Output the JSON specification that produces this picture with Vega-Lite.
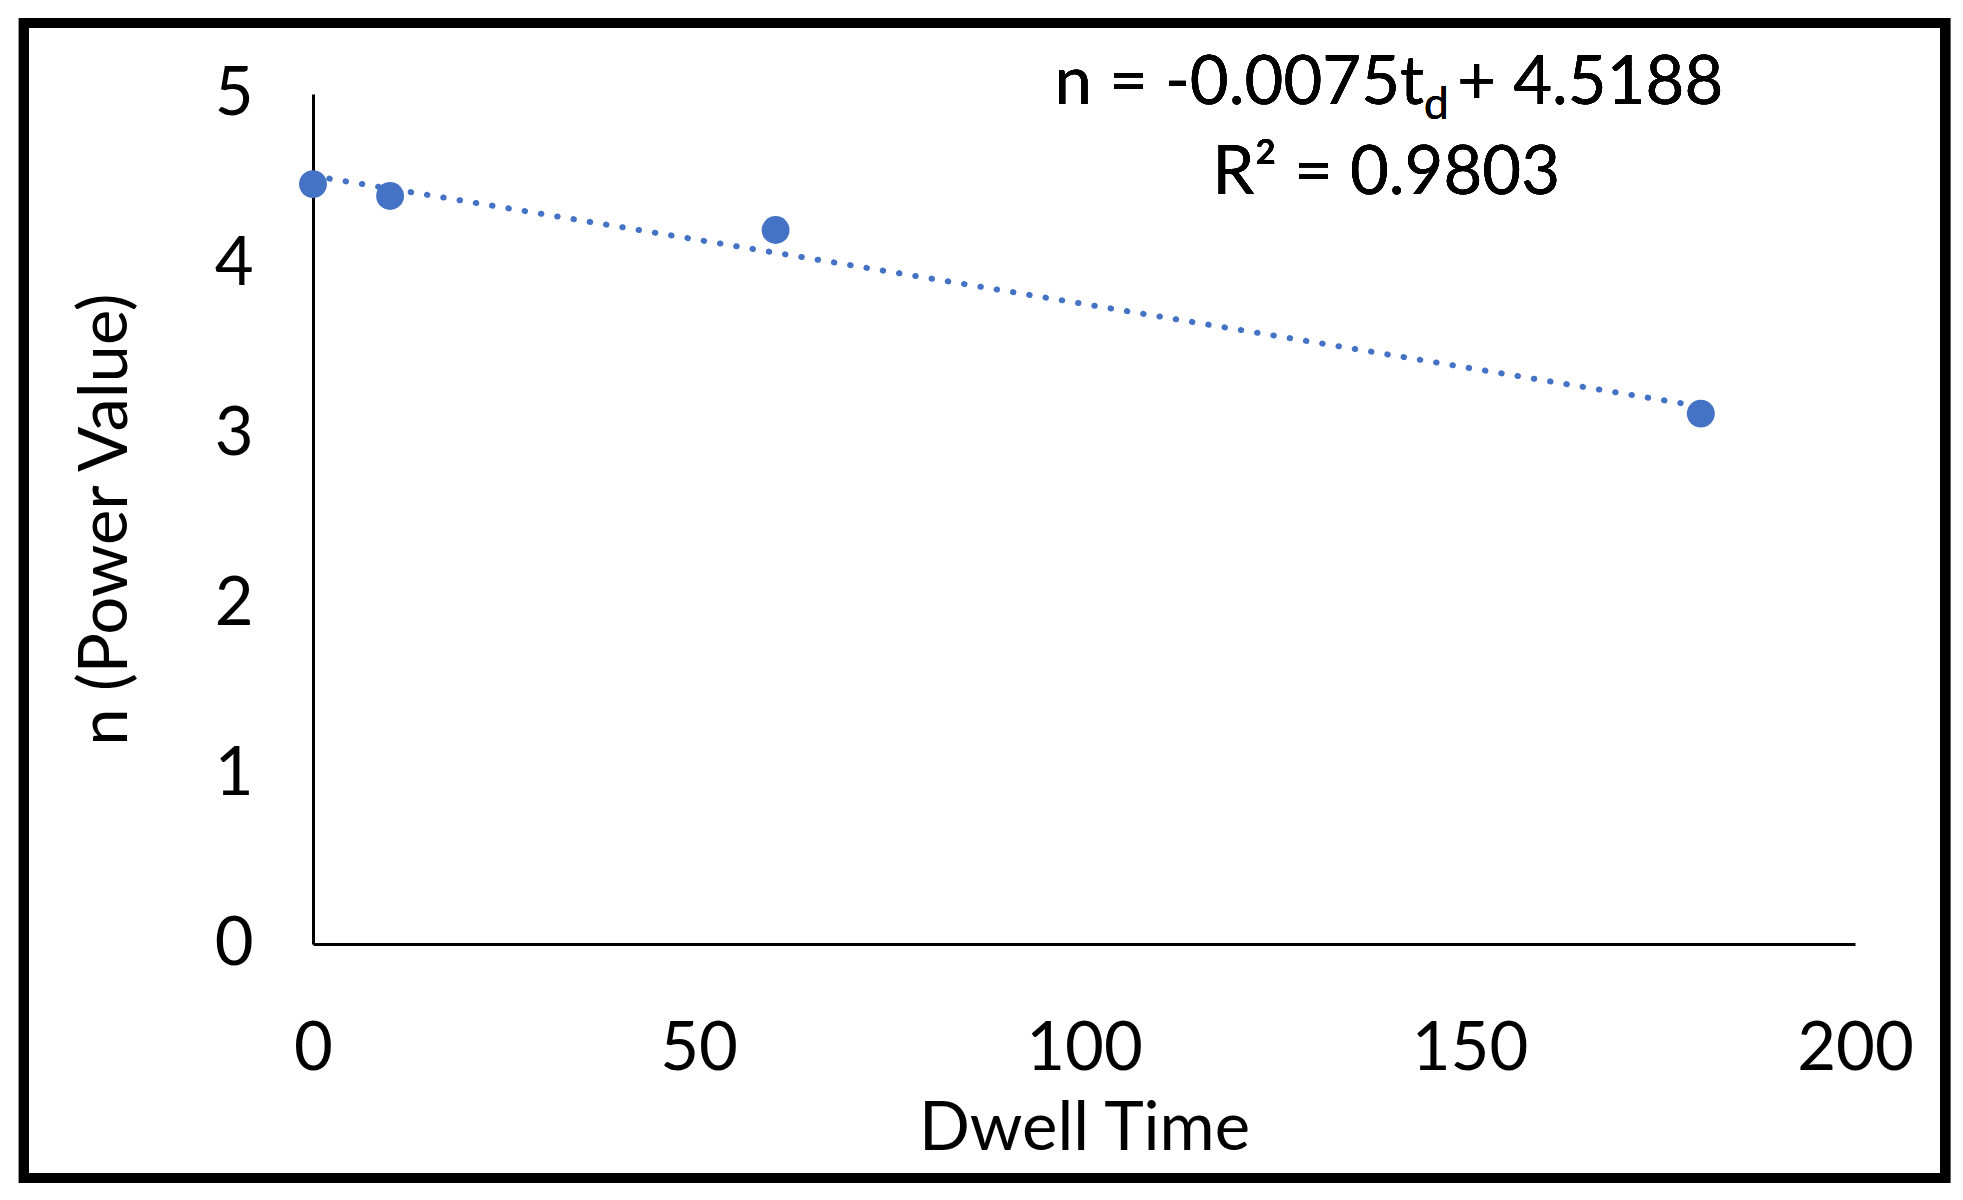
{
  "$schema": "https://vega.github.io/schema/vega-lite/v6.json",
  "width": 1542,
  "height": 850,
  "autosize": {"type": "none"},
  "padding": {"left": 313, "top": 94, "right": 108, "bottom": 256},
  "background": "white",
  "config": {
    "view": {"stroke": null},
    "font": "Lato",
    "axis": {"grid": false, "ticks": false, "tickSize": 0, "domainColor": "black", "domainWidth": 3, "labelColor": "black", "titleColor": "black", "labelFont": "Lato", "titleFont": "Lato", "labelFontSize": 67, "titleFontSize": 67, "titleFontWeight": "normal", "labelFlush": false}
  },
  "data": {"values": [
    {"t": 0, "n": 4.47},
    {"t": 10, "n": 4.40},
    {"t": 60, "n": 4.20},
    {"t": 180, "n": 3.12}
  ]},
  "layer": [
    {
      "mark": {"type": "rect", "filled": false, "fill": null, "stroke": "black", "strokeWidth": 10, "clip": false},
      "encoding": {
        "x": {"datum": -37.5, "type": "quantitative", "scale": {"domain": [0, 200]}},
        "x2": {"datum": 211.7},
        "y": {"datum": 5.418, "type": "quantitative", "scale": {"domain": [0, 5]}},
        "y2": {"datum": -1.376}
      }
    },
    {
      "transform": [{"regression": "n", "on": "t", "method": "linear", "extent": [0, 180]}],
      "mark": {"type": "line", "color": "#4472C4", "strokeWidth": 6, "strokeCap": "round", "strokeDash": [0.5, 16]},
      "encoding": {
        "x": {"field": "t", "type": "quantitative"},
        "y": {"field": "n", "type": "quantitative"}
      }
    },
    {
      "mark": {"type": "point", "filled": true, "color": "#4472C4", "opacity": 1, "size": 780},
      "encoding": {
        "x": {"field": "t", "type": "quantitative", "scale": {"domain": [0, 200], "nice": false, "zero": false},
          "axis": {"title": "Dwell Time", "values": [0, 50, 100, 150, 200], "format": "d", "labelPadding": 72, "labelBaseline": "top", "titlePadding": 14}},
        "y": {"field": "n", "type": "quantitative", "scale": {"domain": [0, 5], "nice": false},
          "axis": {"title": "n (Power Value)", "values": [0, 1, 2, 3, 4, 5], "format": "d", "labelPadding": 60, "titlePadding": 74}}
      }
    },
    {
      "mark": {"type": "text", "align": "right", "baseline": "alphabetic", "fontSize": 67, "font": "Lato", "color": "black"},
      "encoding": {"x": {"datum": 144.1, "type": "quantitative"}, "y": {"datum": 4.94, "type": "quantitative"}, "text": {"value": "n = -0.0075t"}}
    },
    {
      "mark": {"type": "text", "align": "left", "baseline": "alphabetic", "fontSize": 44, "font": "Lato", "color": "black"},
      "encoding": {"x": {"datum": 144.1, "type": "quantitative"}, "y": {"datum": 4.853, "type": "quantitative"}, "text": {"value": "d"}}
    },
    {
      "mark": {"type": "text", "align": "left", "baseline": "alphabetic", "fontSize": 67, "font": "Lato", "color": "black"},
      "encoding": {"x": {"datum": 148.4, "type": "quantitative"}, "y": {"datum": 4.94, "type": "quantitative"}, "text": {"value": "+ 4.5188"}}
    },
    {
      "mark": {"type": "text", "align": "center", "baseline": "alphabetic", "fontSize": 67, "font": "Lato", "color": "black"},
      "encoding": {"x": {"datum": 139.2, "type": "quantitative"}, "y": {"datum": 4.41, "type": "quantitative"}, "text": {"value": "R² = 0.9803"}}
    }
  ]
}
